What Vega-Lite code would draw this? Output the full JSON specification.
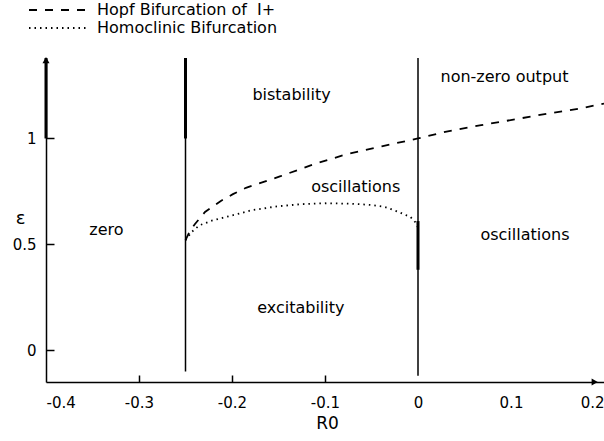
{
  "$schema": "https://vega.github.io/schema/vega-lite/v6.json",
  "width": 558,
  "height": 324,
  "autosize": {"type": "none"},
  "padding": {"left": 46, "top": 58, "right": 0, "bottom": 59},
  "background": "white",
  "config": {
    "view": {"stroke": null},
    "font": "DejaVu Sans",
    "axis": {
      "grid": false,
      "domainColor": "black",
      "domainWidth": 1.5,
      "tickWidth": 1.5,
      "labelColor": "black",
      "titleColor": "black",
      "labelFont": "DejaVu Sans",
      "titleFont": "DejaVu Sans",
      "titleFontWeight": "normal"
    }
  },
  "datasets": {
    "curves": [
      {"series": "Hopf Bifurcation of  I+", "x": -0.25, "y": 0.52},
      {"series": "Hopf Bifurcation of  I+", "x": -0.245, "y": 0.565},
      {"series": "Hopf Bifurcation of  I+", "x": -0.24, "y": 0.595},
      {"series": "Hopf Bifurcation of  I+", "x": -0.229, "y": 0.653},
      {"series": "Hopf Bifurcation of  I+", "x": -0.212, "y": 0.705},
      {"series": "Hopf Bifurcation of  I+", "x": -0.199, "y": 0.737},
      {"series": "Hopf Bifurcation of  I+", "x": -0.185, "y": 0.767},
      {"series": "Hopf Bifurcation of  I+", "x": -0.147, "y": 0.823},
      {"series": "Hopf Bifurcation of  I+", "x": -0.111, "y": 0.88},
      {"series": "Hopf Bifurcation of  I+", "x": -0.075, "y": 0.928},
      {"series": "Hopf Bifurcation of  I+", "x": -0.039, "y": 0.963},
      {"series": "Hopf Bifurcation of  I+", "x": 0, "y": 1.0},
      {"series": "Hopf Bifurcation of  I+", "x": 0.032, "y": 1.034},
      {"series": "Hopf Bifurcation of  I+", "x": 0.068, "y": 1.063},
      {"series": "Hopf Bifurcation of  I+", "x": 0.104, "y": 1.09},
      {"series": "Hopf Bifurcation of  I+", "x": 0.14, "y": 1.118},
      {"series": "Hopf Bifurcation of  I+", "x": 0.176, "y": 1.143},
      {"series": "Hopf Bifurcation of  I+", "x": 0.2, "y": 1.165},
      {"series": "Homoclinic Bifurcation", "x": -0.25, "y": 0.52},
      {"series": "Homoclinic Bifurcation", "x": -0.243, "y": 0.56},
      {"series": "Homoclinic Bifurcation", "x": -0.235, "y": 0.59},
      {"series": "Homoclinic Bifurcation", "x": -0.221, "y": 0.613},
      {"series": "Homoclinic Bifurcation", "x": -0.197, "y": 0.64},
      {"series": "Homoclinic Bifurcation", "x": -0.178, "y": 0.662},
      {"series": "Homoclinic Bifurcation", "x": -0.15, "y": 0.68},
      {"series": "Homoclinic Bifurcation", "x": -0.125, "y": 0.69},
      {"series": "Homoclinic Bifurcation", "x": -0.1, "y": 0.694},
      {"series": "Homoclinic Bifurcation", "x": -0.072, "y": 0.692},
      {"series": "Homoclinic Bifurcation", "x": -0.05, "y": 0.686},
      {"series": "Homoclinic Bifurcation", "x": -0.036, "y": 0.677},
      {"series": "Homoclinic Bifurcation", "x": -0.022, "y": 0.655},
      {"series": "Homoclinic Bifurcation", "x": -0.008, "y": 0.629},
      {"series": "Homoclinic Bifurcation", "x": -0.003, "y": 0.605},
      {"series": "Homoclinic Bifurcation", "x": 0, "y": 0.58}
    ],
    "bounds": [
      {"kind": "line", "x": -0.25, "y": -0.1, "y2": 1.38},
      {"kind": "line", "x": 0, "y": -0.12, "y2": 1.38},
      {"kind": "dense", "x": -0.4, "y": 1.0, "y2": 1.38},
      {"kind": "dense", "x": -0.25, "y": 1.0, "y2": 1.38},
      {"kind": "dense", "x": 0, "y": 0.38, "y2": 0.61}
    ],
    "labels": [
      {"x": -0.335, "y": 0.566, "text": "zero"},
      {"x": -0.136, "y": 1.203, "text": "bistability"},
      {"x": 0.093, "y": 1.292, "text": "non-zero output"},
      {"x": -0.067, "y": 0.769, "text": "oscillations"},
      {"x": 0.115, "y": 0.542, "text": "oscillations"},
      {"x": -0.126, "y": 0.198, "text": "excitability"}
    ],
    "arrows": [
      {"x": -0.4, "y": 1.37, "dir": "up"},
      {"x": 0.19, "y": -0.15, "dir": "right"}
    ]
  },
  "layer": [
    {
      "data": {"name": "bounds"},
      "transform": [{"filter": "datum.kind == 'line'"}],
      "mark": {"type": "rule", "color": "black", "strokeWidth": 1.5},
      "encoding": {
        "x": {
          "field": "x", "type": "quantitative",
          "scale": {"domain": [-0.4, 0.2], "nice": false, "zero": false},
          "axis": {
            "title": "R0",
            "values": [-0.4, -0.3, -0.2, -0.1, 0, 0.1, 0.2],
            "format": "~g",
            "labelExpr": "replace(datum.label, '−', '-')",
            "labelFlush": true,
            "labelFontSize": 15,
            "tickSize": -7,
            "labelPadding": 20,
            "tickColor": {"condition": {"test": "datum.value > -0.35 && datum.value < -0.05", "value": "black"}, "value": "transparent"},
            "titleFontSize": 17,
            "titleX": 281,
            "titleY": 41,
            "titleBaseline": "middle",
            "titleAlign": "center"
          }
        },
        "y": {
          "field": "y", "type": "quantitative",
          "scale": {"domain": [-0.15, 1.38], "nice": false, "zero": false},
          "axis": {
            "title": "ε",
            "values": [0, 0.5, 1],
            "format": "~g",
            "labelFontSize": 15,
            "tickSize": -8,
            "tickColor": "black",
            "labelPadding": 18,
            "titleAngle": 0,
            "titleFontSize": 18,
            "titleX": -26,
            "titleY": 160,
            "titleAlign": "center",
            "titleBaseline": "middle"
          }
        },
        "y2": {"field": "y2"}
      }
    },
    {
      "data": {"name": "bounds"},
      "transform": [{"filter": "datum.kind == 'dense'"}],
      "mark": {"type": "rule", "color": "black", "strokeWidth": 3},
      "encoding": {
        "x": {"field": "x", "type": "quantitative"},
        "y": {"field": "y", "type": "quantitative"},
        "y2": {"field": "y2"}
      }
    },
    {
      "data": {"name": "curves"},
      "mark": {"type": "line", "color": "black", "strokeWidth": 1.8},
      "encoding": {
        "x": {"field": "x", "type": "quantitative"},
        "y": {"field": "y", "type": "quantitative"},
        "strokeDash": {
          "field": "series", "type": "nominal",
          "scale": {"domain": ["Hopf Bifurcation of  I+", "Homoclinic Bifurcation"], "range": [[8, 8], [1.5, 4]]},
          "legend": {
            "orient": "none",
            "legendX": 5,
            "legendY": -56,
            "title": null,
            "symbolType": "M-12,0H12",
            "symbolSize": 25,
            "symbolStrokeColor": "black",
            "symbolStrokeWidth": 1.8,
            "labelFont": "DejaVu Sans",
            "labelFontSize": 16,
            "labelColor": "black",
            "labelOffset": 30,
            "labelLimit": 0,
            "labelExpr": "replace(datum.label, 'of  ', 'of\u00a0\u00a0')",
            "rowPadding": 2
          }
        }
      }
    },
    {
      "data": {"name": "labels"},
      "mark": {"type": "text", "font": "DejaVu Sans", "fontSize": 16, "color": "black", "align": "center", "baseline": "middle"},
      "encoding": {
        "x": {"field": "x", "type": "quantitative"},
        "y": {"field": "y", "type": "quantitative"},
        "text": {"field": "text"}
      }
    },
    {
      "data": {"name": "arrows"},
      "mark": {"type": "point", "filled": true, "color": "black", "size": 50, "opacity": 1},
      "encoding": {
        "x": {"field": "x", "type": "quantitative"},
        "y": {"field": "y", "type": "quantitative"},
        "shape": {"field": "dir", "type": "nominal", "scale": {"domain": ["up", "right"], "range": ["triangle-up", "triangle-right"]}, "legend": null}
      }
    }
  ]
}
